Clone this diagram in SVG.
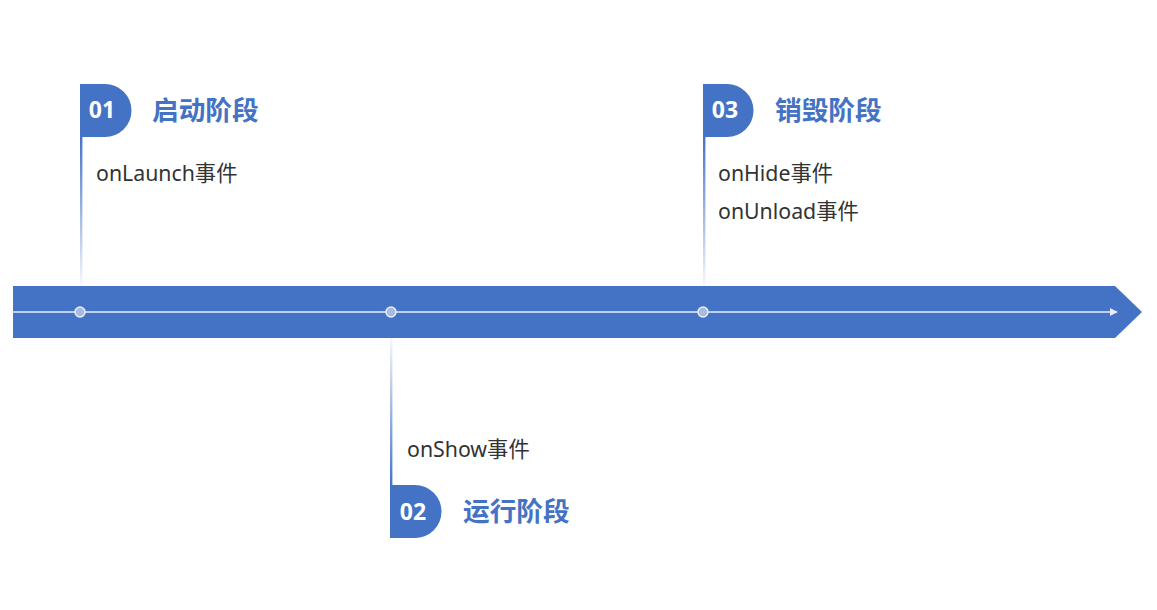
<svg xmlns="http://www.w3.org/2000/svg" width="1157" height="610" viewBox="0 0 1157 610">
<style>
.num{font-family:"Open Sans","Noto Sans",sans-serif;font-weight:700;font-size:23px;fill:#fff;text-anchor:middle}
.title{font-family:"Noto Sans CJK SC",sans-serif;font-weight:700;font-size:26.7px;fill:#4472c4}
.ev{font-family:"Noto Sans","Noto Sans CJK SC",sans-serif;font-size:21.3px;fill:#333}
.flag{fill:#4472c4}
.dot{fill:#a9b9e2;stroke:#e8eef9;stroke-width:1.5}
</style>
<defs>
<linearGradient id="gDown" x1="0" y1="0" x2="0" y2="1">
<stop offset="0" stop-color="#4472c4"/>
<stop offset="1" stop-color="#4472c4" stop-opacity="0.05"/>
</linearGradient>
<linearGradient id="gUp" x1="0" y1="1" x2="0" y2="0">
<stop offset="0" stop-color="#4472c4"/>
<stop offset="1" stop-color="#4472c4" stop-opacity="0.05"/>
</linearGradient>
<marker id="ah" viewBox="0 0 10 10" refX="9" refY="5" markerWidth="5" markerHeight="5" orient="auto" markerUnits="strokeWidth">
<path d="M0,0 L10,5 L0,10 z" fill="#e8eef9"/>
</marker>
</defs>
<g id="timeline">
<path d="M13,286 H1115 L1142,312 L1115,338 H13 Z" fill="#4472c4"/>
</g>
<g id="connectors">
<line x1="13" y1="312" x2="1117" y2="312" stroke="#e8eef9" stroke-width="1.6" marker-end="url(#ah)"/>
<rect x="80" y="136" width="2.4" height="150" fill="url(#gDown)"/>
<rect x="703" y="136" width="2.4" height="150" fill="url(#gDown)"/>
<rect x="390" y="338" width="2.4" height="148" fill="url(#gUp)"/>
</g>
<g id="dots">
<circle class="dot" cx="80" cy="312" r="5"/>
<circle class="dot" cx="391" cy="312" r="5"/>
<circle class="dot" cx="703" cy="312" r="5"/>
</g>
<g id="stage1">
<path class="flag" d="M80,84 H105 A26.5,26.5 0 0 1 105,137 H80 Z"/>
<text class="num" x="102" y="118">01</text>
<text class="title" x="152" y="120">启动阶段</text>
<text class="ev" x="96" y="181">onLaunch事件</text>
</g>
<g id="stage3">
<path class="flag" d="M703,84 H727 A26.5,26.5 0 0 1 727,137 H703 Z"/>
<text class="num" x="725" y="118">03</text>
<text class="title" x="775" y="120">销毁阶段</text>
<text class="ev" x="718" y="181">onHide事件</text>
<text class="ev" x="718" y="219">onUnload事件</text>
</g>
<g id="stage2">
<path class="flag" d="M390,485 H415 A26.5,26.5 0 0 1 415,538 H390 Z"/>
<text class="num" x="413" y="520">02</text>
<text class="title" x="463" y="521">运行阶段</text>
<text class="ev" x="407" y="457">onShow事件</text>
</g>
</svg>
